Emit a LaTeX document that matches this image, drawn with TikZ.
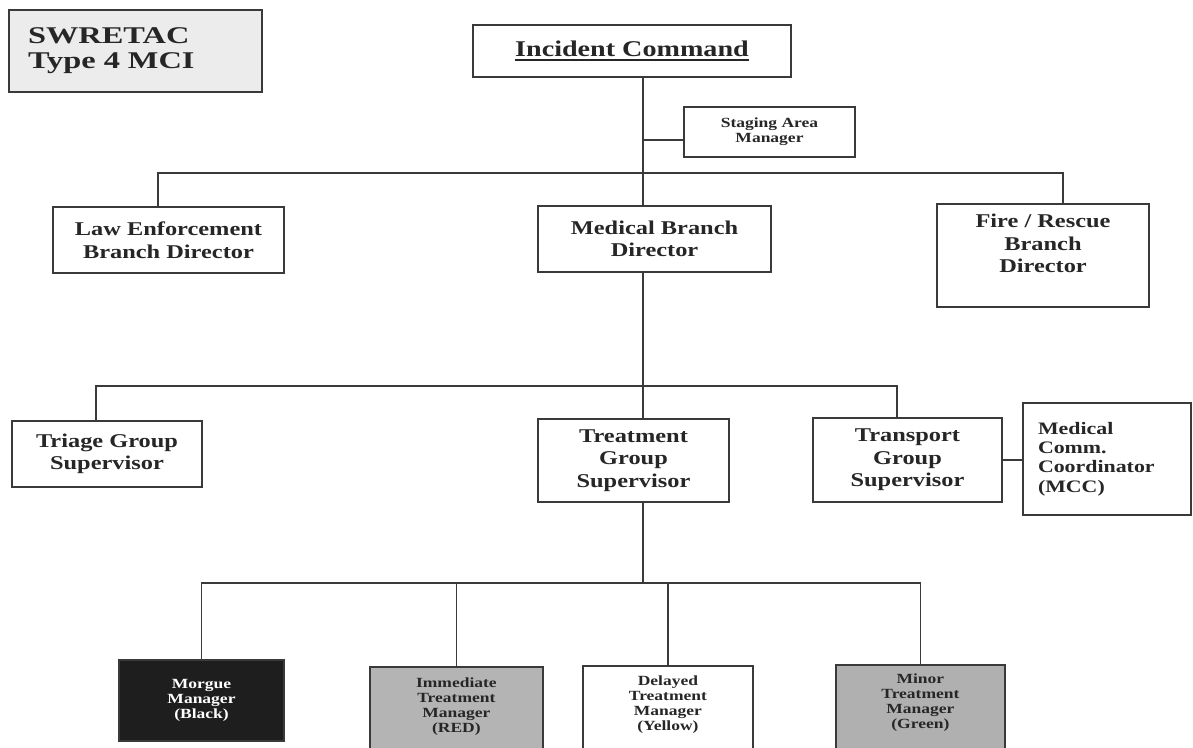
\documentclass[tikz,border=0pt]{standalone}
\usepackage{fontspec}
\setmainfont{Liberation Serif}[FakeStretch=1.25]
\newfontfamily\widefont{Liberation Serif}[FakeStretch=1.35]
\usetikzlibrary{calc}
\definecolor{ink}{HTML}{262626}
\definecolor{edge}{HTML}{3A3A3A}
\definecolor{panel}{HTML}{ECECEC}
\definecolor{morgue}{HTML}{1E1E1E}
\definecolor{redgrey}{HTML}{B4B4B4}
\definecolor{greengrey}{HTML}{B0B0B0}
% underline drawn as a rule the width of its text
\newcommand{\ulbar}[1]{\sbox0{#1}\rlap{\rule[-4pt]{\wd0}{1.8pt}}\usebox0}
\begin{document}
\begin{tikzpicture}[x=1pt,y=-1pt,
  box/.style={draw=edge, line width=1.8pt, inner sep=0pt, align=center, text=ink,
              font=\bfseries\fontsize{19.5}{22.5}\selectfont},
  smalltext/.style={font=\bfseries\fontsize{14}{15}\selectfont},
  lbl/.style={inner sep=0pt, align=center, text=ink, smalltext},
  wire/.style={draw=edge, line width=1.8pt}]
\clip (0,0) rectangle (1193,747);
\fill[white] (0,0) rectangle (1193,747);

% title panel
\node[box, fill=panel, minimum width=253pt, minimum height=82pt, text width=215pt,
      inner xsep=19pt, align=left, font=\widefont\bfseries\fontsize{24}{25}\selectfont]
      (swr) at (135.5,51) {SWRETAC\\Type 4 MCI};

% command level
\node[box, minimum width=318pt, minimum height=52pt,
      font=\bfseries\fontsize{22.5}{24}\selectfont] (ic) at (632,51) {\ulbar{Incident Command}};
\node[box, smalltext, minimum width=171pt, minimum height=50pt] (stg) at (769.5,132)
      {Staging Area\\Manager};

% branch level
\node[box, minimum width=231pt, minimum height=66pt] (law) at (168.5,240)
      {Law Enforcement\\Branch Director};
\node[box, minimum width=233pt, minimum height=66pt] (med) at (654.5,239)
      {Medical Branch\\Director};
\node[box, minimum width=212pt, minimum height=103pt] (fire) at (1043,255.5)
      {Fire / Rescue\\Branch\\Director\\[2pt]};

% group level
\node[box, minimum width=190pt, minimum height=66pt] (tri) at (107,454)
      {Triage Group\\Supervisor};
\node[box, minimum width=191pt, minimum height=83pt] (trt) at (633.5,460.5)
      {Treatment\\Group\\Supervisor};
\node[box, minimum width=189pt, minimum height=84pt] (trn) at (907.5,460)
      {Transport\\Group\\Supervisor};
\node[box, minimum width=168pt, minimum height=112pt, text width=138pt, inner xsep=15pt,
      align=left, font=\bfseries\fontsize{17.5}{19.3}\selectfont] (mcc) at (1107,459)
      {Medical\\Comm.\\Coordinator\\(MCC)};

% treatment unit managers
\node[box, smalltext, fill=morgue, text=white, minimum width=165pt, minimum height=81pt]
      (mor) at (201.5,700.5) {Morgue\\Manager\\(Black)};
\node[box, fill=redgrey, minimum width=173pt, minimum height=100pt, anchor=north west]
      (imm) at (369,666) {};
\node[box, minimum width=170pt, minimum height=100pt, anchor=north west]
      (del) at (582,665) {};
\node[box, fill=greengrey, minimum width=169pt, minimum height=100pt, anchor=north west]
      (mnr) at (835,664) {};
\node[lbl] (immT) at ($(imm.north)+(0,40.5)$) {Immediate\\Treatment\\Manager\\(RED)};
\node[lbl] (delT) at ($(del.north)+(0,40)$) {Delayed\\Treatment\\Manager\\(Yellow)};
\node[lbl] (mnrT) at ($(mnr.north)+(0,39)$) {Minor\\Treatment\\Manager\\(Green)};

% connectors
\coordinate (spine) at (643,0);
\coordinate (bar1) at (643,173);
\coordinate (bar2) at (643,386);
\coordinate (bar3) at (643,583);

\draw[wire] (ic.south -| spine) -- (med.north -| spine);
\draw[wire] ([yshift=-8pt]stg.west) -- ([yshift=-8pt]stg.west -| spine);
\draw[wire] ([xshift=-10.5pt]law.north) |- (bar1) -| ([xshift=20pt]fire.north);

\draw[wire] (med.south -| spine) -- (trt.north -| spine);
\draw[wire] ([xshift=-11pt]tri.north) |- (bar2) -| ([xshift=-10.5pt]trn.north);
\draw[wire] (trn.east) -- (trn.east -| mcc.west);

\draw[wire] (trt.south -| spine) -- (bar3);
\draw[wire] (mor.north) |- (bar3) -| (mnr.north);
\draw[wire] (imm.north) -- (imm.north |- bar3);
\draw[wire] (del.north) -- (del.north |- bar3);
\end{tikzpicture}
\end{document}
